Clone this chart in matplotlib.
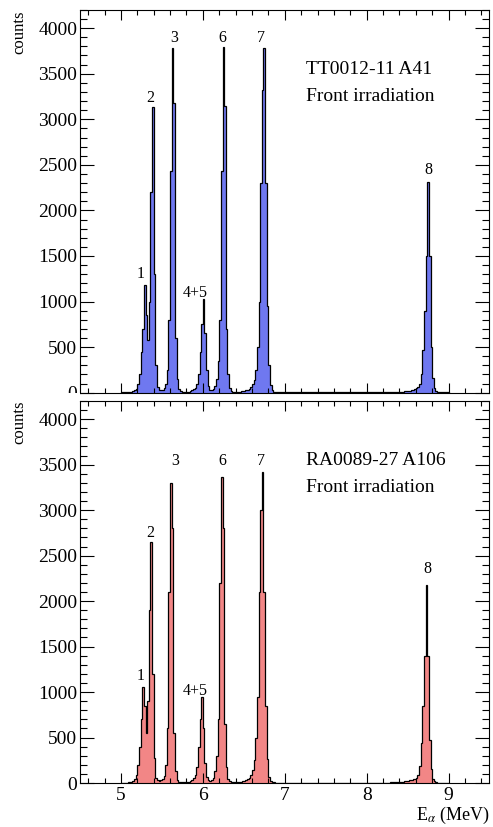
import matplotlib
matplotlib.use('Agg')
import matplotlib.pyplot as plt
import numpy as np
from matplotlib.patches import Rectangle
from matplotlib.ticker import MultipleLocator

plt.rcParams['font.family'] = ['Liberation Serif', 'DejaVu Serif']
plt.rcParams['mathtext.fontset'] = 'stix'

# alpha spectra, 20 keV bins starting at 5.00 MeV (20 bins per row)
bin_width = 0.02
e_start = 5.0

counts_a41 = [
    2, 3, 3, 4, 5, 7, 10, 15, 25, 45, 90, 200, 450, 700, 1180, 850, 580, 1000, 2200, 3130,
    1300, 300, 60, 30, 25, 30, 50, 100, 250, 800, 2430, 3780, 3180, 600, 150, 40, 15, 10, 8, 8,
    10, 12, 18, 25, 35, 55, 100, 200, 450, 750, 1030, 650, 250, 70, 30, 25, 40, 70, 150, 350,
    800, 2430, 3790, 3150, 700, 200, 50, 20, 12, 10, 9, 10, 11, 13, 16, 20, 25, 32, 42, 60,
    90, 140, 250, 500, 1000, 2300, 3320, 3780, 2300, 950, 300, 80, 25, 12, 8, 6, 5, 4, 4, 3,
    3, 3, 2, 3, 4, 2, 3, 3, 2, 3, 2, 2, 3, 2, 3, 2, 2, 3, 2, 2,
    2, 3, 2, 2, 3, 2, 2, 2, 3, 2, 2, 3, 2, 2, 2, 3, 2, 2, 3, 2,
    2, 2, 3, 2, 2, 3, 2, 3, 2, 2, 3, 3, 2, 3, 3, 4, 3, 3, 4, 4,
    4, 5, 4, 5, 5, 6, 6, 7, 8, 8, 9, 10, 12, 13, 15, 18, 22, 26, 32, 40,
    50, 65, 90, 200, 470, 900, 1500, 2310, 1500, 500, 160, 50, 20, 10, 6, 4, 3, 3, 2, 2,
]

counts_a106 = [
    2, 3, 4, 5, 7, 10, 15, 25, 45, 90, 200, 400, 700, 1055, 850, 550, 900, 1900, 2650, 1200,
    280, 60, 30, 25, 30, 45, 80, 200, 600, 2100, 3300, 2800, 550, 130, 35, 15, 10, 8, 8, 9,
    10, 14, 20, 30, 50, 90, 180, 400, 700, 945, 600, 220, 70, 30, 25, 35, 60, 130, 300, 700,
    2200, 3370, 2800, 650, 180, 45, 18, 12, 10, 9, 10, 11, 13, 16, 20, 25, 32, 42, 60, 90,
    140, 250, 500, 950, 2100, 3000, 3420, 2100, 850, 260, 70, 22, 10, 7, 5, 4, 4, 3, 3, 3,
    3, 2, 3, 3, 2, 3, 2, 2, 3, 2, 2, 3, 2, 2, 3, 2, 2, 2, 3, 2,
    2, 2, 3, 2, 2, 2, 3, 2, 2, 3, 2, 2, 2, 3, 2, 2, 3, 2, 2, 3,
    2, 3, 2, 2, 3, 2, 3, 3, 2, 3, 3, 3, 4, 3, 3, 4, 4, 3, 4, 4,
    4, 5, 4, 5, 6, 6, 7, 8, 9, 10, 12, 13, 15, 18, 21, 25, 30, 35, 40, 45,
    60, 85, 190, 440, 850, 1400, 2180, 1400, 470, 150, 45, 18, 9, 5, 4, 3, 3, 2, 2, 2,
]

peak_names = ['1', '2', '3', '4+5', '6', '7', '8']
detectors = ['TT0012-11 A41', 'RA0089-27 A106']
irradiation = 'Front irradiation'

fill_colors = ['#6f78f0', '#f28686']
# peak label anchors (energy, counts) per panel
label_pos = [
    [(5.244, 1259), (5.357, 3194), (5.655, 3846), (5.911, 1050), (6.234, 3850), (6.707, 3850), (8.752, 2400)],
    [(5.244, 1132), (5.354, 2703), (5.659, 3495), (5.909, 967), (6.232, 3495), (6.707, 3495), (8.744, 2308)],
]

fig = plt.figure(figsize=(4.93, 8.27), dpi=100)
ax_top = fig.add_axes([0.1623, 0.5252, 0.8306, 0.4628])
ax_bot = fig.add_axes([0.1623, 0.0532, 0.8306, 0.4619])

for i, (ax, counts) in enumerate(zip([ax_top, ax_bot], [counts_a41, counts_a106])):
    edges = np.round(e_start + bin_width * np.arange(len(counts) + 1), 3)
    ax.stairs(counts, edges, fill=True, color=fill_colors[i], lw=0)
    ax.stairs(counts, edges, color='black', lw=0.9)

    ax.set_xlim(4.5, 9.5)
    ax.set_ylim(0, 4200)
    ax.xaxis.set_major_locator(MultipleLocator(1))
    ax.xaxis.set_minor_locator(MultipleLocator(0.2))
    ax.yaxis.set_major_locator(MultipleLocator(500))
    ax.yaxis.set_minor_locator(MultipleLocator(100))
    ax.tick_params(which='both', direction='in', top=True, right=True, labelsize=14, width=0.8)
    ax.tick_params(axis='x', which='major', length=7.2, pad=3)
    ax.tick_params(axis='x', which='minor', length=3.6)
    ax.tick_params(axis='y', which='major', length=10, pad=2)
    ax.tick_params(axis='y', which='minor', length=5)
    for sp in ax.spines.values():
        sp.set_linewidth(0.8)

    for name, (xe, yc) in zip(peak_names, label_pos[i]):
        ax.text(xe, yc, name, fontsize=11.5, ha='center', va='baseline')

    ax.text(0.552, 0.833, detectors[i], transform=ax.transAxes, fontsize=14, va='baseline')
    ax.text(0.552, 0.762, irradiation, transform=ax.transAxes, fontsize=14, va='baseline')

    top_px = 10 if i == 0 else 401
    fig.text(19 / 493, 1 - top_px / 827, 'counts', rotation=90, fontsize=12, ha='center', va='top')

ax_top.tick_params(axis='x', labelbottom=False)

# lower pad hides the bottom of the upper "0" label
fig.add_artist(Rectangle((0, 1 - 401 / 827), 80 / 493, 8 / 827, transform=fig.transFigure,
                         facecolor='white', edgecolor='none', zorder=10))

fig.text(489.5 / 493, 1 - 820 / 827, r'E$_\alpha$ (MeV)', fontsize=13, ha='right', va='baseline')

fig.savefig('out.png', dpi=100)
